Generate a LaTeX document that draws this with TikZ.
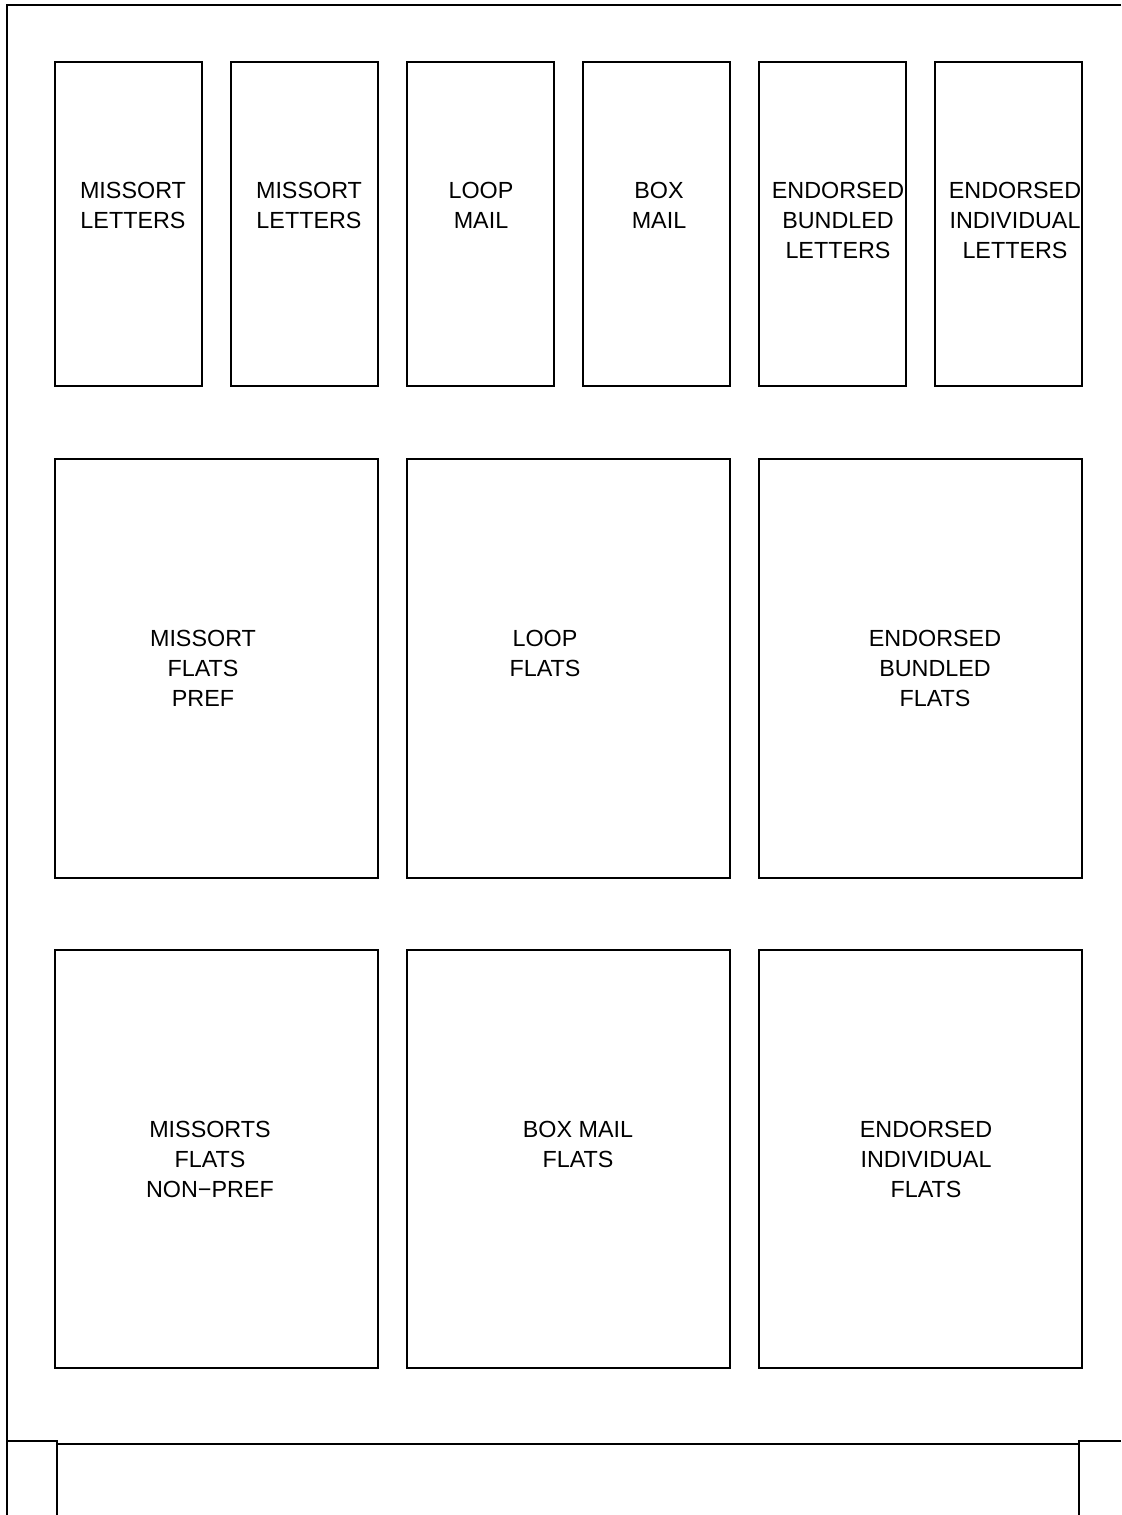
\documentclass[tikz,border=0pt]{standalone}
\usepackage{fontspec}
\setmainfont{Liberation Sans}
\tikzset{every picture/.style={line width=1.5pt}}
\tikzset{
  bin/.style={draw, line join=miter},
  binlabel/.style={anchor=north, inner sep=0pt, align=center, font=\fontsize{17.5pt}{22.5pt}\selectfont}
}

\begin{document}
\begin{tikzpicture}[x=0.75pt,y=0.75pt,yscale=-1,xscale=1]
    \useasboundingbox (0,0) rectangle (1121,1515);

    %Shape: Frame
    \draw (1121,5) -- (7,5) -- (7,1515) ;
    \draw (7,1441) -- (57,1441) -- (57,1515) ;
    \draw (57,1444) -- (1079,1444) ;
    \draw (1079,1515) -- (1079,1441) -- (1121,1441) ;

    %Shape: Rectangle -- letter bins
    \foreach \x in {55,231,407,583,759,935}
      \draw [bin] (\x,62) rectangle ++(147,324) ;
    %Shape: Rectangle -- flat bins
    \foreach \x in {55,407,759}{
      \draw [bin] (\x,459) rectangle ++(323,419) ;
      \draw [bin] (\x,950) rectangle ++(323,418) ;
    }

    % Text Node
    \node [binlabel] (mslet1) at (133,181) {MISSORT\\LETTERS};
    % Text Node
    \node [binlabel] (mslet2) at (309,181) {MISSORT\\LETTERS};
    % Text Node
    \node [binlabel] (loopmail) at (481,181) {LOOP\\MAIL};
    % Text Node
    \node [binlabel] (boxmail) at (659,181) {BOX\\MAIL};
    % Text Node
    \node [binlabel] (endbunlet) at (838,181) {ENDORSED\\BUNDLED\\LETTERS};
    % Text Node
    \node [binlabel] (endindlet) at (1015,181) {ENDORSED\\INDIVIDUAL\\LETTERS};

    % Text Node
    \node [binlabel] (msflpref) at (203,629) {MISSORT\\FLATS\\PREF};
    % Text Node
    \node [binlabel] (loopflats) at (545,629) {LOOP\\FLATS};
    % Text Node
    \node [binlabel] (endbunflat) at (935,629) {ENDORSED\\BUNDLED\\FLATS};

    % Text Node
    \node [binlabel] (msflnonpref) at (210,1120) {MISSORTS\\FLATS\\NON−PREF};
    % Text Node
    \node [binlabel] (boxflats) at (578,1120) {BOX MAIL\\FLATS};
    % Text Node
    \node [binlabel] (endindflat) at (926,1120) {ENDORSED\\INDIVIDUAL\\FLATS};

\end{tikzpicture}
\end{document}
